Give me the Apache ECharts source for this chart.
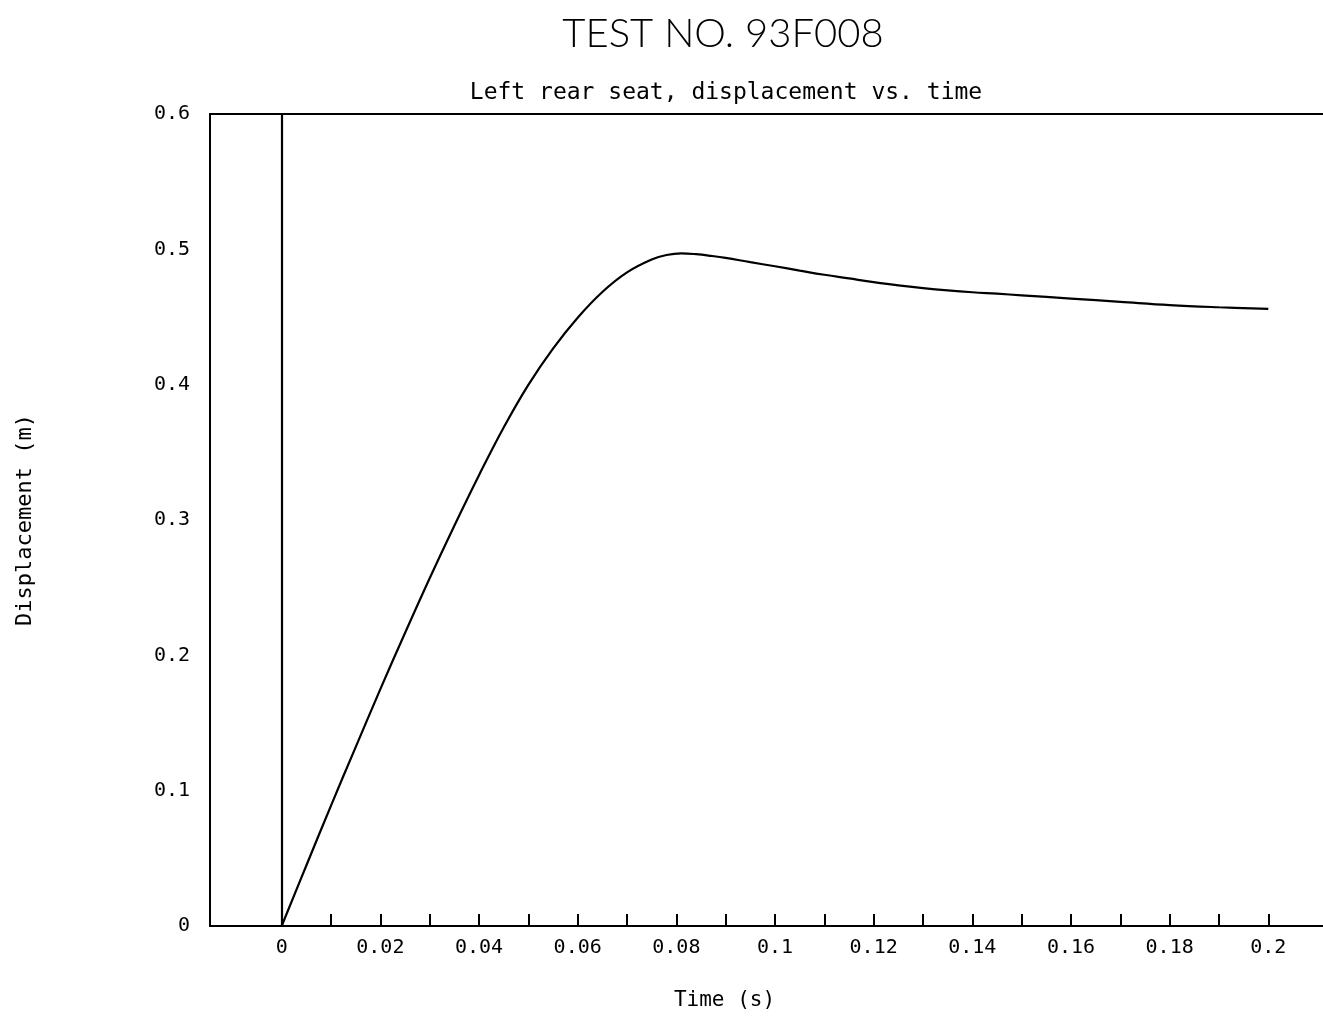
<!DOCTYPE html>
<html>
<head>
<meta charset="utf-8">
<script src="https://cdn.jsdelivr.net/npm/echarts@6/dist/echarts.min.js"></script>
<style>
  html, body { margin: 0; padding: 0; background: #fff; }
  #chart { width: 1323px; height: 1017px; }
</style>
</head>
<body>
<div id="chart"></div>
<script>
// time (s) and displacement (m)
const times = [0, 0.005, 0.01, 0.015, 0.02, 0.025, 0.03, 0.035, 0.04, 0.045,
  0.05, 0.055, 0.06, 0.065, 0.07, 0.075, 0.078, 0.081, 0.084, 0.087, 0.09, 0.095,
  0.1, 0.105, 0.11, 0.115, 0.12, 0.125, 0.13, 0.135, 0.14, 0.145,
  0.15, 0.16, 0.17, 0.18, 0.19, 0.2];
const displacement = [0, 0.0447, 0.089, 0.1322, 0.175, 0.2165, 0.257, 0.2958, 0.3331, 0.3684,
  0.3999, 0.4267, 0.4495, 0.4685, 0.483, 0.4925, 0.4958, 0.497, 0.4964, 0.4952, 0.4937, 0.4905,
  0.4875, 0.4843, 0.4812, 0.4785, 0.4758, 0.4734, 0.4714, 0.4697, 0.4683, 0.4672,
  0.466, 0.4636, 0.4612, 0.4588, 0.4572, 0.456];

const xLabelValues = [0, 0.02, 0.04, 0.06, 0.08, 0.1, 0.12, 0.14, 0.16, 0.18, 0.2];
const xTickValues = [0, 0.01, 0.02, 0.03, 0.04, 0.05, 0.06, 0.07, 0.08, 0.09, 0.1,
  0.11, 0.12, 0.13, 0.14, 0.15, 0.16, 0.17, 0.18, 0.19, 0.2];
const yTickLabels = ['0', '0.1', '0.2', '0.3', '0.4', '0.5', '0.6'];

const mono = 'DejaVu Sans Mono';
const chart = echarts.init(document.getElementById('chart'));

chart.setOption({
  animation: false,
  backgroundColor: '#fff',
  title: [
    {
      text: 'TEST NO. 93F008',
      left: 718, top: 9, textAlign: 'center',
      textStyle: { fontFamily: 'Lato', fontWeight: 300, fontSize: 40, color: '#000' }
    },
    {
      text: 'Left rear seat, displacement vs. time',
      left: 721, top: 77, textAlign: 'center',
      textStyle: { fontFamily: mono, fontWeight: 'normal', fontSize: 23, color: '#000' }
    }
  ],
  grid: {
    left: 210, top: 114, right: -6, bottom: 91,
    outerBoundsMode: 'none',
    show: true, borderColor: '#000', borderWidth: 2
  },
  xAxis: {
    type: 'value',
    min: -0.01453, max: 0.2123,
    name: 'Time (s)',
    nameLocation: 'middle', nameGap: 64,
    nameTextStyle: { fontFamily: mono, fontSize: 21, color: '#000', padding: [0, 90, 0, 0] },
    axisLine: { show: true, lineStyle: { color: '#000', width: 2 } },
    axisTick: { show: true, inside: true, length: 12, customValues: xTickValues,
      lineStyle: { color: '#000', width: 2 } },
    axisLabel: { customValues: xLabelValues, margin: 12, color: '#000',
      fontFamily: mono, fontSize: 20, formatter: v => String(+v.toFixed(2)) },
    splitLine: { show: false }
  },
  yAxis: {
    type: 'value',
    min: 0, max: 0.6, interval: 0.1,
    name: 'Displacement (m)',
    nameLocation: 'middle', nameGap: 174,
    nameTextStyle: { fontFamily: mono, fontSize: 22, color: '#000' },
    axisLine: { show: true, lineStyle: { color: '#000', width: 2 } },
    axisTick: { show: false },
    axisLabel: { margin: 20, color: '#000', fontFamily: mono, fontSize: 20,
      formatter: (v, i) => yTickLabels[i] },
    splitLine: { show: false }
  },
  series: [{
    type: 'line',
    data: times.map((t, i) => [t, displacement[i]]),
    smooth: 0.4,
    showSymbol: false,
    lineStyle: { color: '#000', width: 2.2 },
    markLine: {
      silent: true,
      symbol: ['none', 'none'],
      label: { show: false },
      lineStyle: { color: '#000', width: 2.2, type: 'solid' },
      data: [{ xAxis: 0 }]
    }
  }]
});
</script>
</body>
</html>
